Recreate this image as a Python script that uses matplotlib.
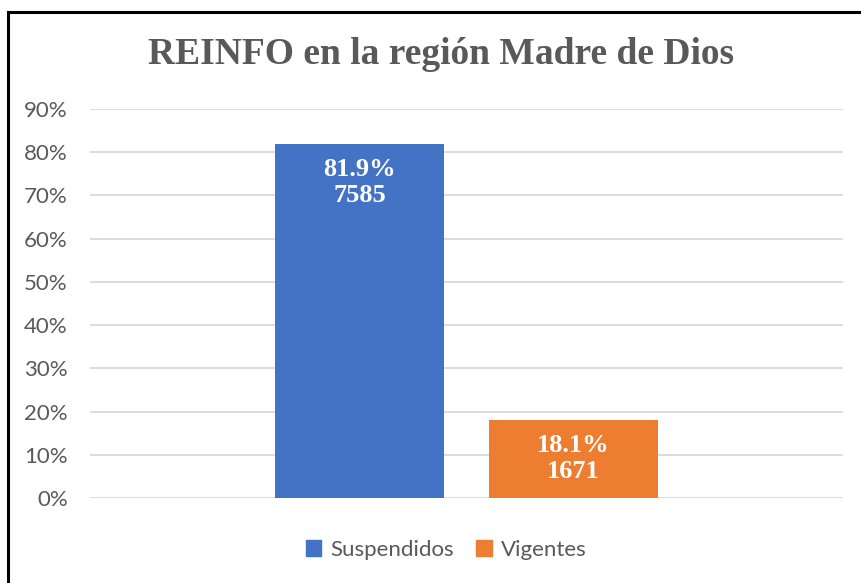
import matplotlib.pyplot as plt
from matplotlib.lines import Line2D
from matplotlib.patches import Patch
from matplotlib.ticker import PercentFormatter

series = ['Suspendidos', 'Vigentes']
percent = [81.9, 18.1]
counts = [7585, 1671]
colors = ['#4472C4', '#ED7D31']
yticks = [0, 10, 20, 30, 40, 50, 60, 70, 80, 90]

fig = plt.figure(figsize=(8.62, 5.83), dpi=100)
ax = fig.add_axes([90 / 862, 1 - 498 / 583, 753 / 862, 389 / 583])

width = 0.2244
offsets = [-0.1421, 0.1421]
for name, p, n, c, off in zip(series, percent, counts, colors, offsets):
    ax.bar(off, p, width=width, color=c, zorder=3, label=name)
    ax.annotate(f'{p:.1f}%\n{n}', xy=(off, p), xytext=(0, -10),
                textcoords='offset points', ha='center', va='top',
                color='white', fontsize=19, fontweight='bold',
                family='Liberation Serif', linespacing=1.2, zorder=4)

ax.set_xlim(-0.5, 0.5)
ax.set_ylim(0, 90)
ax.set_yticks(yticks)
ax.yaxis.set_major_formatter(PercentFormatter(decimals=0))
ax.grid(axis='y', color='#D9D9D9', linewidth=1.3, zorder=0)
ax.set_xticks([])
for s in ax.spines.values():
    s.set_visible(False)
ax.tick_params(axis='y', length=0, pad=16, labelsize=16, labelcolor='#595959')
for lbl in ax.get_yticklabels():
    lbl.set_family('Lato')

fig.text(441 / 862, 1 - 55 / 583, 'REINFO en la región Madre de Dios',
         ha='center', va='center', fontsize=27, fontweight='bold',
         family='Liberation Serif', color='#595959')

handles = [Patch(color=c) for c in colors]
fig.legend(handles, series, loc='center', bbox_to_anchor=(446 / 862, 1 - 550 / 583),
           ncol=2, frameon=False, handlelength=0.7, handleheight=0.7,
           handletextpad=0.4, columnspacing=1.0,
           prop={'family': 'Lato', 'size': 16}, labelcolor='#595959')

# chart border (cut off at right and bottom)
fig.add_artist(Line2D([8 / 862, 8 / 862], [1 - 12 / 583, -0.05], color='black',
                      linewidth=2.2, transform=fig.transFigure))
fig.add_artist(Line2D([8 / 862, 1.05], [1 - 12 / 583, 1 - 12 / 583], color='black',
                      linewidth=2.2, transform=fig.transFigure))

fig.savefig('out.png', dpi=100)
